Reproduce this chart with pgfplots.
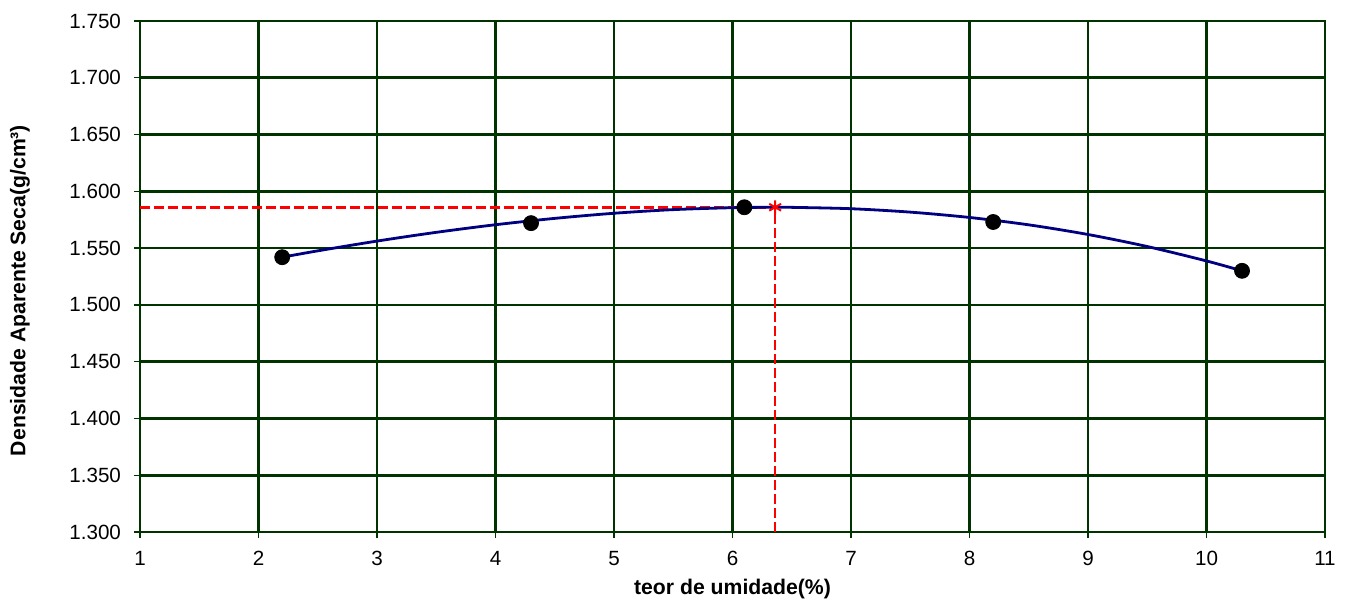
\documentclass[border=0pt]{standalone}
\usepackage{pgfplots}
\pgfplotsset{compat=1.18}
\usepackage{fontspec}
\setmainfont{Liberation Sans}
\definecolor{gridgreen}{RGB}{0,51,0}
\definecolor{curveblue}{RGB}{0,0,128}
\begin{document}
\begin{tikzpicture}
\path[use as bounding box] (-70pt,-34.5pt) rectangle (605pt,266pt);
\begin{axis}[
  at={(0,0)}, anchor=south west,
  scale only axis, width=592.5pt, height=255.5pt,
  xmin=1, xmax=11, ymin=1.3, ymax=1.75,
  xtick={1,2,...,11},
  ytick={1.3,1.35,...,1.76},
  grid=major,
  grid style={gridgreen, line width=1.3pt},
  axis line style={gridgreen, line width=1.3pt},
  tick style={gridgreen, line width=0.7pt},
  tick pos=left,
  tick align=outside, major tick length=3pt,
  /pgf/number format/assume math mode=true,
  scaled y ticks=false,
  ticklabel style={font=\fontsize{10.3}{12}\selectfont, text=black},
  xticklabel style={yshift=-3pt},
  yticklabel style={xshift=-3pt, /pgf/number format/.cd, fixed, fixed zerofill, precision=3},
  xlabel={\textbf{teor de umidade(\%)}},
  ylabel={\textbf{Densidade Aparente Seca(g/cm³)}},
  label style={font=\fontsize{10.6}{12}\selectfont},
  xlabel style={at={([yshift=-28.5pt]rel axis cs:0.5,0)}, anchor=center},
  ylabel style={at={([xshift=-60pt,yshift=-7pt]rel axis cs:0,0.5)}, anchor=center},
  clip=false,
]
\addplot[red, line width=1.3pt, dash pattern=on 5pt off 2pt] coordinates {(1,1.586) (6.36,1.586)};
\addplot[red, line width=1.3pt, dash pattern=on 5pt off 2pt] coordinates {(6.36,1.3) (6.36,1.586)};
\addplot[curveblue, line width=1.4pt, smooth] coordinates {
(2.2,1.542) (2.5,1.5476) (3.0,1.5562) (3.5,1.5639) (4.0,1.5706) (4.5,1.5762)
(5.0,1.5807) (5.5,1.5839) (6.0,1.5856) (6.35,1.5860) (6.5,1.5859) (7.0,1.5847)
(7.5,1.5817) (8.0,1.5770) (8.5,1.5705) (9.0,1.5620) (9.5,1.5514) (10.0,1.5387) (10.3,1.530)
};
\addplot[only marks, mark=*, mark size=3.75pt, black] coordinates {
(2.2,1.542) (4.3,1.572) (6.1,1.586) (8.2,1.573) (10.3,1.530)
};
\addplot[only marks, mark=asterisk, mark size=3.4pt, red, line width=1pt] coordinates {(6.36,1.586)};
\end{axis}
\end{tikzpicture}
\end{document}
